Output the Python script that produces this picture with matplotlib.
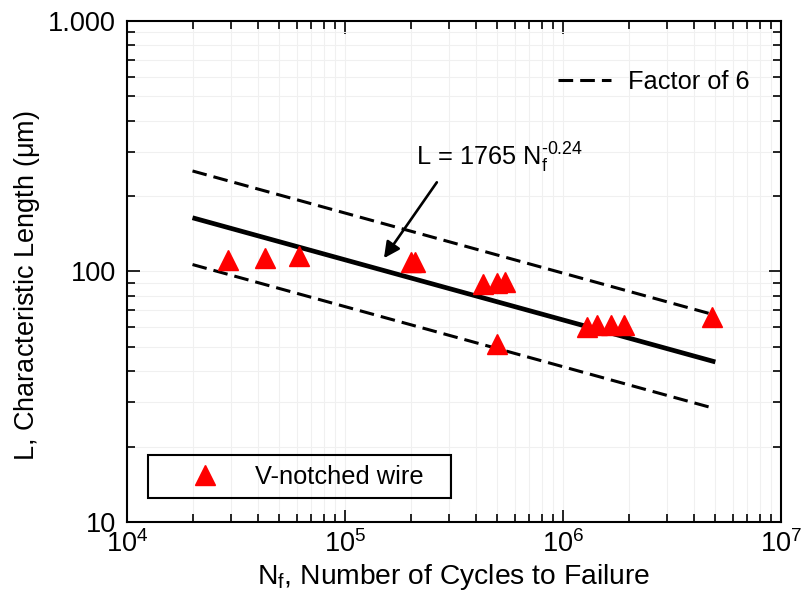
import numpy as np
import matplotlib
matplotlib.use('Agg')
import matplotlib.pyplot as plt
from matplotlib.ticker import FixedLocator, FixedFormatter, LogLocator, NullFormatter
from matplotlib.lines import Line2D
from matplotlib.patches import Rectangle

plt.rcParams['font.family'] = ['Liberation Sans', 'DejaVu Sans']
plt.rcParams['mathtext.fontset'] = 'custom'
plt.rcParams['mathtext.rm'] = 'Liberation Sans'
plt.rcParams['mathtext.it'] = 'Liberation Sans'

# measured fatigue data, V-notched wire
cycles = [29000, 43000, 61500, 201000, 209000, 430000, 498000, 542000,
          498000, 1290000, 1430000, 1660000, 1900000, 4820000]
char_length = [111, 113, 115, 109, 109, 89, 90, 91,
               51.4, 60, 61, 61, 61, 65.8]

# power-law fit L = coef * Nf^expo, band is a factor of 6 in life
coef = 1765
expo = -0.24
life_factor = 6
fit_range = [2e4, 5e6]

x_ticks = [1e4, 1e5, 1e6, 1e7]
x_tick_labels = [r'$\mathregular{10^{4}}$', r'$\mathregular{10^{5}}$',
                 r'$\mathregular{10^{6}}$', r'$\mathregular{10^{7}}$']
y_ticks = [10, 100, 1000]
y_tick_labels = ['10', '100', '1.000']

fs = 19.5      # tick labels, y label
fs_x = 20.3    # x label
fs_txt = 18.3  # legends and equation
dash_pat = (4.8, 2.3)

fig = plt.figure(figsize=(8.03, 5.99), dpi=100)
ax = fig.add_axes([0.158, 0.1285, 0.8146, 0.8365])
ax.set_xscale('log')
ax.set_yscale('log')
ax.set_xlim(1e4, 1e7)
ax.set_ylim(10, 1000)

n = np.logspace(np.log10(fit_range[0]), np.log10(fit_range[1]), 50)
fit = coef * n ** expo
upper = coef * (n / life_factor) ** expo
lower = coef * (n * life_factor) ** expo

ax.plot(n, fit, color='black', lw=3.4, solid_capstyle='butt', zorder=3)
dash_kw = dict(color='black', lw=2.2, dashes=dash_pat, zorder=3)
ax.plot(n, upper, **dash_kw)
ax.plot(n, lower, **dash_kw)

ax.plot(cycles, char_length, linestyle='none', marker='^', ms=14.5,
        color='#ff0000', mec='#ff0000', zorder=4)

# fit equation with arrow pointing at the line
ax.text(2.12e5, 284, r'L = 1765 N$_\mathregular{f}^\mathregular{\text{-0.24}}$',
        fontsize=fs_txt, va='center', ha='left')
ax.annotate('', xy=(1.51e5, 113), xytext=(2.64e5, 227),
            arrowprops=dict(arrowstyle='-|>', lw=1.9, color='black',
                            mutation_scale=24, shrinkA=0, shrinkB=0))

# axes styling
ax.xaxis.set_major_locator(FixedLocator(x_ticks))
ax.xaxis.set_major_formatter(FixedFormatter(x_tick_labels))
ax.yaxis.set_major_locator(FixedLocator(y_ticks))
ax.yaxis.set_major_formatter(FixedFormatter(y_tick_labels))
ax.xaxis.set_minor_locator(LogLocator(base=10, subs=np.arange(2, 10)))
ax.yaxis.set_minor_locator(LogLocator(base=10, subs=np.arange(2, 10)))
ax.xaxis.set_minor_formatter(NullFormatter())
ax.yaxis.set_minor_formatter(NullFormatter())
ax.tick_params(which='both', direction='in', top=True, right=True,
               width=1.2, colors='black', labelsize=fs)
ax.tick_params(which='major', length=9)
ax.tick_params(which='minor', length=6)
ax.tick_params(axis='x', which='major', pad=6)
ax.tick_params(axis='y', which='major', pad=8)
for sp in ax.spines.values():
    sp.set_linewidth(1.5)
ax.grid(True, which='both', color='#f0f0f0', lw=0.8, zorder=0)
ax.set_axisbelow(True)

ax.set_xlabel(r'N$_\mathregular{f}$, Number of Cycles to Failure', fontsize=fs_x, labelpad=3)
ax.set_ylabel(r'L, Characteristic Length ($\mathregular{\mu}$m)', fontsize=fs)
ax.yaxis.set_label_coords(-0.13, 0.471)

# legends
band_handle = Line2D([], [], color='black', lw=2.2, dashes=dash_pat)
leg1 = ax.legend([band_handle], ['Factor of 6'], loc='center left',
                 bbox_to_anchor=(0.659, 0.878), frameon=False, fontsize=fs_txt,
                 handlelength=2.1, handletextpad=0.64, borderpad=0,
                 borderaxespad=0)
ax.add_artist(leg1)

wire_handle = Line2D([], [], linestyle='none', marker='^', ms=14.5,
                     color='#ff0000')
ax.legend([wire_handle], ['V-notched wire'], loc='center left',
          bbox_to_anchor=(0.095, 0.0906), frameon=False, fontsize=fs_txt,
          handlelength=1.28, handletextpad=1.32, borderpad=0, borderaxespad=0)
ax.add_patch(Rectangle((0.032, 0.048), 0.463, 0.086, transform=ax.transAxes,
                       fill=False, ec='black', lw=1.5, zorder=5))

fig.savefig('out.png', dpi=100)
